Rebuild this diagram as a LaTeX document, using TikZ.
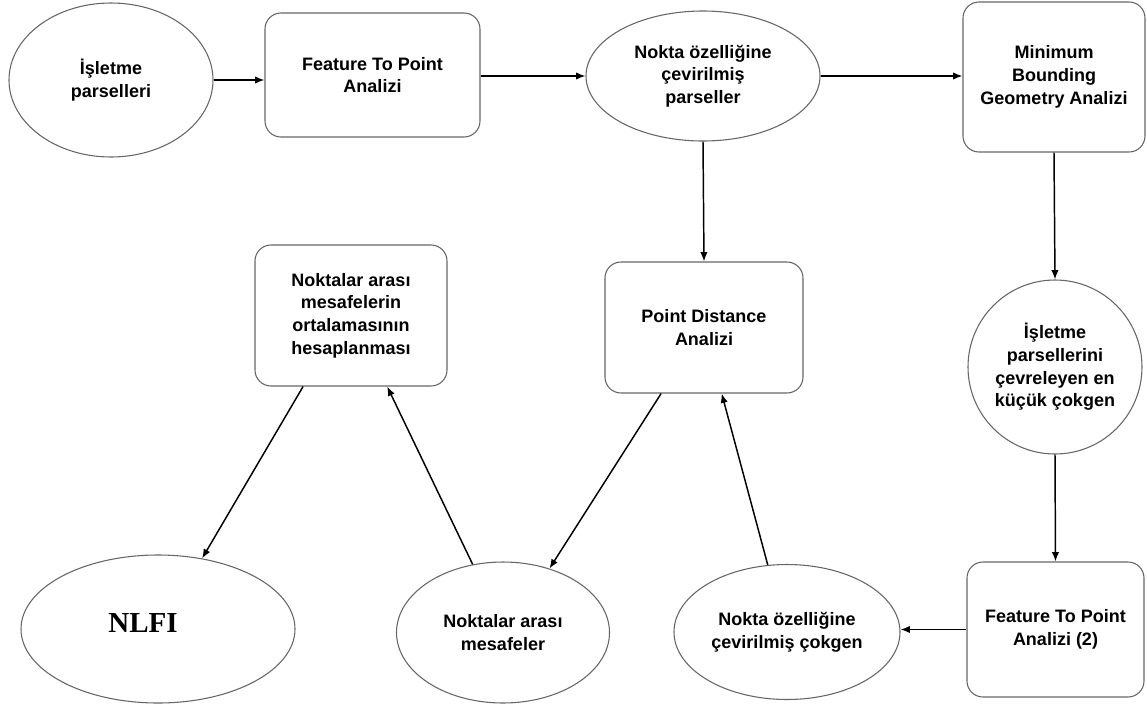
\documentclass[tikz,border=0pt]{standalone}
\usepackage{fontspec}
\setmainfont{Liberation Sans}
\newfontfamily\serifbold{Liberation Serif}
\usetikzlibrary{shapes.geometric,arrows.meta}
\begin{document}
\begin{tikzpicture}[x=0.75pt,y=-0.75pt,
  every node/.style={font=\fontsize{13.5}{17}\selectfont\bfseries, align=center, inner sep=0pt},
  ell/.style={ellipse, draw=black!60, line width=0.8pt},
  box/.style={rectangle, rounded corners=12pt, draw=black!60, line width=0.8pt},
  conn/.style={line width=1.1pt, -{Latex[length=7pt,width=5.5pt]}}]
\useasboundingbox[fill=white] (0,0) rectangle (1147,708);

\node[ell, minimum width=153pt, minimum height=115.5pt] (e1) at (111,80) {İşletme\\parselleri};
\node[box, minimum width=161.25pt, minimum height=93pt] (r1) at (372.5,75) {Feature To Point\\Analizi};
\node[ell, minimum width=175.5pt, minimum height=97.5pt] (e2) at (703,76) {Nokta özelliğine\\çevirilmiş\\parseller};
\node[box, minimum width=136.5pt, minimum height=112.5pt] (r2) at (1054,77) {Minimum\\Bounding\\Geometry Analizi};
\node[ell, minimum width=130.5pt, minimum height=130.5pt] (c1) at (1055,367) {İşletme\\parsellerini\\çevreleyen en\\küçük çokgen};
\node[box, minimum width=132.75pt, minimum height=101.25pt] (r3) at (1055.5,629.5) {Feature To Point\\Analizi (2)};
\node[ell, minimum width=169.5pt, minimum height=101.25pt] (e3) at (787,632) {Nokta özelliğine\\çevirilmiş çokgen};
\node[box, minimum width=148.5pt, minimum height=98.25pt] (pd) at (704,327.5) {Point Distance\\Analizi};
\node[ell, minimum width=159.75pt, minimum height=105.75pt] (e4) at (503,632.5) {Noktalar arası\\mesafeler};
\node[ell, minimum width=205.5pt, minimum height=111pt] (nl) at (158,629) {};
\node[font=\serifbold\fontsize{21.75}{24}\selectfont\bfseries] (nlt) at (143,623) {NLFI};
\node[box, minimum width=144pt, minimum height=105.75pt] (lr) at (351,315.5) {Noktalar arası\\mesafelerin\\ortalamasının\\hesaplanması};

\draw[conn] (e1.east) -- (e1.east -| r1.west);
\draw[conn] (r1.east |- e2.west) -- (e2.west);
\draw[conn] (e2.east) -- (e2.east -| r2.west);
\draw[conn] (e2.south) -- (pd.north);
\draw[conn] (r2.south) -- (c1.north);
\draw[conn] (c1.south) -- (r3.north);
\draw[conn] (r3.west) -- (r3.west -| e3.east);
\draw[conn] (e3.106) -- (pd.-75);
\draw[conn] (pd.-123) -- (e4.54);
\draw[conn] (e4.114) -- (lr.-63);
\draw[conn] (lr.-124) -- (nl.58);
\end{tikzpicture}
\end{document}
